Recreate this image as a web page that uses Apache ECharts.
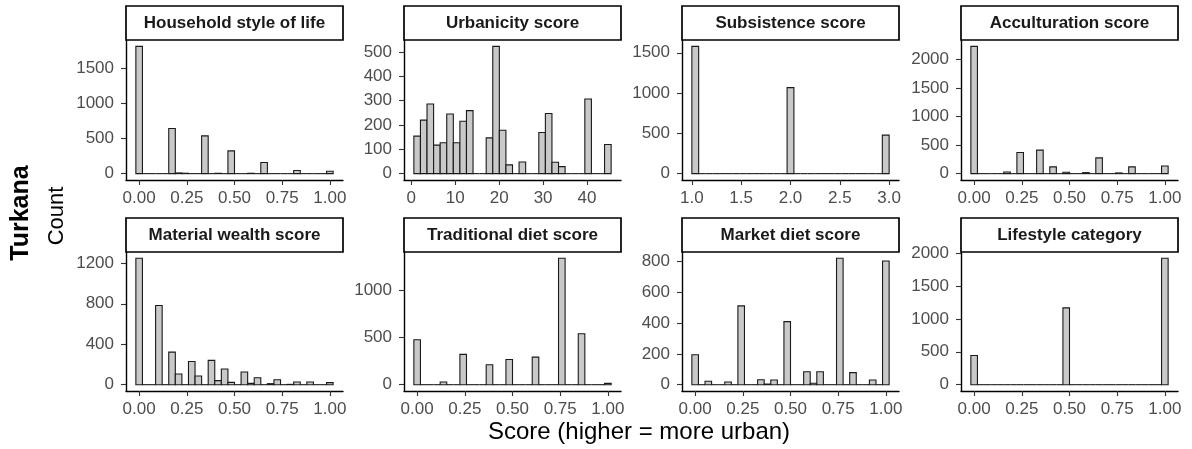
<!DOCTYPE html>
<html>
<head>
<meta charset="utf-8">
<script src="https://cdn.jsdelivr.net/npm/echarts@6/dist/echarts.min.js"></script>
<style>
html,body{margin:0;padding:0;background:#fff;}
#chart{width:1192px;height:449px;}
</style>
</head>
<body>
<div id="chart"></div>
<script>
// ---- data ----
const panelTitles = ['Household style of life','Urbanicity score','Subsistence score','Acculturation score',
                     'Material wealth score','Traditional diet score','Market diet score','Lifestyle category'];
// histogram bin definitions (left edge of first bin, bin width)
const binStarts = [-0.5/29, 0.6, 1, -0.5/29, -0.5/29, -0.5/29, -0.5/29, -0.5/29];
const binWidths = [1/29, 1.496, 2/29, 1/29, 1/29, 1/29, 1/29, 1/29];

const household    = [1820,0,0,0,0,645,10,5,0,0,540,0,5,0,325,0,0,5,0,160,0,0,0,0,45,0,0,0,0,35];
const urbanicity   = [154,220,286,117,127,245,127,215,259,0,0,147,523,178,36,0,48,0,0,169,247,47,29,0,0,0,307,0,0,120];
const subsistence  = [1580,0,0,0,0,0,0,0,0,0,0,0,0,0,1068,0,0,0,0,0,0,0,0,0,0,0,0,0,478];
const acculturation= [2235,0,0,0,0,30,0,370,0,0,412,0,118,0,24,0,0,18,0,276,0,0,12,0,118,0,0,0,0,135];
const material     = [1250,0,0,783,0,322,105,0,230,86,0,240,40,155,23,0,125,13,69,0,10,49,0,3,26,0,26,0,0,20];
const traditional  = [477,0,0,0,28,0,0,322,0,0,0,212,0,0,268,0,0,0,293,0,0,0,1343,0,0,541,0,0,0,14];
const market       = [194,0,22,0,0,17,0,511,0,0,32,4,30,0,409,0,0,84,9,84,0,0,819,0,78,0,0,30,0,802];
const lifestyle    = [444,0,0,0,0,0,0,0,0,0,0,0,0,0,1167,0,0,0,0,0,0,0,0,0,0,0,0,0,0,1919];
const counts = [household, urbanicity, subsistence, acculturation, material, traditional, market, lifestyle];

const unitTicks = [0, 0.25, 0.5, 0.75, 1];
const xTicks = [unitTicks, [0,10,20,30,40], [1,1.5,2,2.5,3], unitTicks, unitTicks, unitTicks, unitTicks, unitTicks];
const xDecimals = [2, 0, 1, 2, 2, 2, 2, 2];
const yTicks = [[0,500,1000,1500],[0,100,200,300,400,500],[0,500,1000,1500],[0,500,1000,1500,2000],
                [0,400,800,1200],[0,500,1000],[0,200,400,600,800],[0,500,1000,1500,2000]];
const xTitle = 'Score (higher = more urban)';
const yTitle = 'Count';
const rowLabel = 'Turkana';

// ---- layout ----
const colLeft = [126, 404, 682, 961];
const panelW = 217;
const rowTop = [40, 252];
const panelH = [140, 139];
const stripH = 34;
const FONT = '"Liberation Sans", Arial, Helvetica, sans-serif';

const grids = [], xAxes = [], yAxes = [], series = [], graphics = [];
for (let p = 0; p < 8; p++) {
  const r = Math.floor(p / 4), c = p % 4;
  grids.push({left: colLeft[c], top: rowTop[r], width: panelW, height: panelH[r], containLabel: false});
  const data = counts[p];
  const w = binWidths[p], s = binStarts[p];
  const end = s + data.length * w;
  const span = end - s;
  const ymax = Math.max(...data);
  const dec = xDecimals[p];
  xAxes.push({
    type: 'value', gridIndex: p,
    min: s - 0.05 * span, max: end + 0.05 * span,
    axisLine: {show: true, onZero: false, lineStyle: {color: '#000', width: 1.4}},
    axisTick: {show: true, length: 5, lineStyle: {color: '#333', width: 1.1}, customValues: xTicks[p]},
    axisLabel: {show: true, customValues: xTicks[p], color: '#4d4d4d', fontSize: 17, fontFamily: FONT, margin: 10,
                formatter: v => Number(v).toFixed(dec)},
    splitLine: {show: false}
  });
  yAxes.push({
    type: 'value', gridIndex: p,
    min: -0.05 * ymax, max: 1.05 * ymax,
    axisLine: {show: true, onZero: false, lineStyle: {color: '#000', width: 1.4}},
    axisTick: {show: true, length: 5, lineStyle: {color: '#333', width: 1.1}, customValues: yTicks[p]},
    axisLabel: {show: true, customValues: yTicks[p], color: '#4d4d4d', fontSize: 17, fontFamily: FONT, margin: 12,
                formatter: v => String(Math.round(v))},
    splitLine: {show: false}
  });
  series.push({
    type: 'custom', xAxisIndex: p, yAxisIndex: p,
    data: data.map((v, i) => [s + i * w, s + (i + 1) * w, v]),
    encode: {x: [0, 1], y: 2},
    renderItem: function (params, api) {
      const a = api.coord([api.value(0), 0]);
      const b = api.coord([api.value(1), api.value(2)]);
      if (api.value(2) === 0) {
        return {type: 'line', shape: {x1: a[0], y1: a[1], x2: b[0], y2: a[1]},
                style: {stroke: '#1a1a1a', lineWidth: 1.1}};
      }
      return {type: 'rect', shape: {x: a[0], y: b[1], width: b[0] - a[0], height: a[1] - b[1]},
              style: {fill: '#c9c9c9', stroke: '#1a1a1a', lineWidth: 1.1}};
    },
    silent: true
  });
  // strip
  graphics.push({type: 'rect', shape: {x: colLeft[c], y: rowTop[r] - stripH, width: panelW, height: stripH},
                 style: {fill: '#fff', stroke: '#000', lineWidth: 1.7}, z: 10});
  graphics.push({type: 'text', x: colLeft[c] + panelW / 2, y: rowTop[r] - stripH / 2,
                 style: {text: panelTitles[p], fill: '#1a1a1a', font: 'bold 17px ' + FONT,
                         textAlign: 'center', textVerticalAlign: 'middle'}, z: 11});
}
graphics.push({type: 'text', x: 639, y: 432,
               style: {text: xTitle, fill: '#000', font: '24px ' + FONT, textAlign: 'center', textVerticalAlign: 'middle'}});
graphics.push({type: 'text', x: 57, y: 216, rotation: Math.PI / 2,
               style: {text: yTitle, fill: '#000', font: '22px ' + FONT, textAlign: 'center', textVerticalAlign: 'middle'}});
graphics.push({type: 'text', x: 21, y: 213, rotation: Math.PI / 2,
               style: {text: rowLabel, fill: '#000', font: 'bold 25px ' + FONT, textAlign: 'center', textVerticalAlign: 'middle'}});

const chart = echarts.init(document.getElementById('chart'), null, {renderer: 'canvas'});
chart.setOption({
  animation: false,
  backgroundColor: '#fff',
  grid: grids, xAxis: xAxes, yAxis: yAxes, series: series,
  graphic: graphics
});
</script>
</body>
</html>
